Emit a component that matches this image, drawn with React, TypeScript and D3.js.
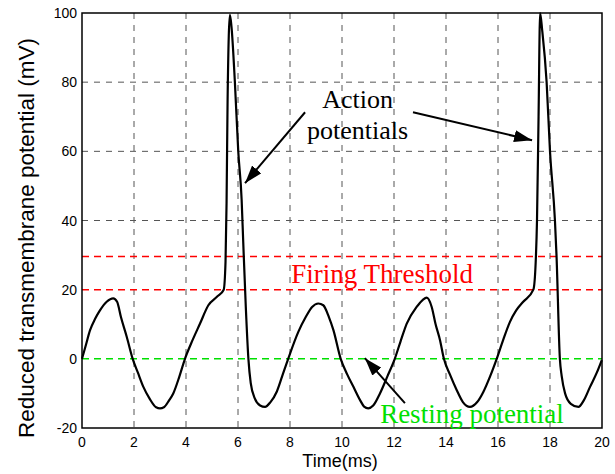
import React, { useRef, useEffect } from "react";
import * as d3 from "d3";

const WIDTH = 615;
const HEIGHT = 474;
const MARGIN = { top: 13, right: 13, bottom: 46, left: 82 };

const X_TICKS = [0, 2, 4, 6, 8, 10, 12, 14, 16, 18, 20];
const Y_TICKS = [-20, 0, 20, 40, 60, 80, 100];

// membrane potential trace, [time (ms), potential (mV)]
const TIME = [
  0, 0.15, 0.31, 0.5, 0.69, 0.95, 1.2, 1.35, 1.5, 1.72, 1.95, 2.15, 2.36, 2.6, 2.85, 3.0, 3.15, 3.35, 3.51,
  3.75, 3.96, 4.2, 4.54, 4.86, 5.2, 5.45, 5.52, 5.56, 5.6, 5.69, 5.75, 5.88, 6.01, 6.14, 6.2, 6.3, 6.4, 6.49,
  6.65, 6.85, 7.04, 7.25, 7.49, 7.7, 7.93, 8.32, 8.6, 8.85, 9.09, 9.28, 9.5, 9.67, 9.95, 10.2, 10.44, 10.7,
  10.85, 11.01, 11.2, 11.46, 11.75, 12.03, 12.25, 12.49, 12.87, 13.1, 13.26, 13.45, 13.6, 13.77, 13.92, 14.15,
  14.41, 14.65, 14.92, 15.2, 15.44, 15.7, 15.95, 16.2, 16.46, 16.7, 16.97, 17.36, 17.45, 17.5, 17.56, 17.62,
  17.7, 17.87, 18.0, 18.19, 18.25, 18.38, 18.45, 18.58, 18.8, 19.09, 19.3, 19.54, 19.8, 19.99,
];
const POTENTIAL = [
  0, 4, 8.3, 11.5, 14, 16.5, 17.5, 16.5, 12, 6.4, 0, -4, -8.1, -11.5, -14, -14.3, -14, -12, -10,
  -5, 0, 4.5, 10.2, 15.5, 18, 20, 28, 45, 75, 99.5, 96, 80, 60, 46, 34, 15, 0, -7,
  -11.5, -13.5, -13.9, -12.5, -9.5, -5, 0, 7.8, 12, 15, 16, 15.5, 12, 8.3, 0, -4.5, -8.1, -12,
  -13.8, -14.3, -13.5, -10, -5, 0, 5, 10.2, 15, 17, 17.7, 15, 10, 5.4, 0, -4.5,
  -9, -12.5, -13.9, -12.5, -9.5, -5, 0, 5.5, 10.7, 14, 16.5, 20, 28, 40, 70, 100,
  95, 80, 60, 40, 30, 0, -5, -10, -13, -13.9, -12, -8.1, -4, -0.4,
];

const THRESHOLDS = [20, 29.6];
const RESTING = 0;

export default function App() {
  const svgRef = useRef<SVGSVGElement>(null);

  useEffect(() => {
    const svg = d3.select(svgRef.current);
    svg.selectAll("*").remove();

    const innerW = WIDTH - MARGIN.left - MARGIN.right;
    const innerH = HEIGHT - MARGIN.top - MARGIN.bottom;

    const x = d3.scaleLinear().domain([0, 20]).range([0, innerW]);
    const y = d3.scaleLinear().domain([-20, 100]).range([innerH, 0]);

    const defs = svg.append("defs");
    defs
      .append("marker")
      .attr("id", "arrow")
      .attr("viewBox", "0 0 18 12")
      .attr("refX", 18)
      .attr("refY", 6)
      .attr("markerWidth", 18)
      .attr("markerHeight", 12)
      .attr("markerUnits", "userSpaceOnUse")
      .attr("orient", "auto")
      .append("path")
      .attr("d", "M0,0 L18,6 L0,12 Z")
      .attr("fill", "#000");

    const g = svg.append("g").attr("transform", `translate(${MARGIN.left},${MARGIN.top})`);

    // grid
    g.selectAll(".vgrid")
      .data(X_TICKS.slice(1, -1))
      .join("line")
      .attr("x1", (d) => x(d))
      .attr("x2", (d) => x(d))
      .attr("y1", 0)
      .attr("y2", innerH)
      .attr("stroke", "#555")
      .attr("stroke-dasharray", "6,6");
    g.selectAll(".hgrid")
      .data(Y_TICKS.slice(1, -1).filter((d) => d !== 0 && d !== 20))
      .join("line")
      .attr("x1", 0)
      .attr("x2", innerW)
      .attr("y1", (d) => y(d))
      .attr("y2", (d) => y(d))
      .attr("stroke", "#555")
      .attr("stroke-dasharray", "6,6");

    // threshold + resting lines
    g.selectAll(".thr")
      .data(THRESHOLDS)
      .join("line")
      .attr("x1", 0)
      .attr("x2", innerW)
      .attr("y1", (d) => y(d))
      .attr("y2", (d) => y(d))
      .attr("stroke", "#ff0000")
      .attr("stroke-width", 1.5)
      .attr("stroke-dasharray", "7,5");
    g.append("line")
      .attr("x1", 0)
      .attr("x2", innerW)
      .attr("y1", y(RESTING))
      .attr("y2", y(RESTING))
      .attr("stroke", "#00e000")
      .attr("stroke-width", 1.5)
      .attr("stroke-dasharray", "7,5");

    // trace
    const pts: [number, number][] = TIME.map((t, i) => [t, POTENTIAL[i]]);
    const line = d3
      .line<[number, number]>()
      .x((d) => x(d[0]))
      .y((d) => y(d[1]))
      .curve(d3.curveMonotoneX);
    g.append("path")
      .attr("d", line(pts))
      .attr("fill", "none")
      .attr("stroke", "#000")
      .attr("stroke-width", 2.2);

    // frame
    g.append("rect")
      .attr("width", innerW)
      .attr("height", innerH)
      .attr("fill", "none")
      .attr("stroke", "#000")
      .attr("stroke-width", 1.5);

    // tick labels
    g.selectAll(".xt")
      .data(X_TICKS)
      .join("text")
      .attr("x", (d) => x(d))
      .attr("y", innerH + 19)
      .attr("text-anchor", "middle")
      .attr("font-family", "Liberation Sans, Arial, sans-serif")
      .attr("font-size", 14)
      .text((d) => d);
    g.selectAll(".yt")
      .data(Y_TICKS)
      .join("text")
      .attr("x", -5)
      .attr("y", (d) => y(d))
      .attr("dy", "0.36em")
      .attr("text-anchor", "end")
      .attr("font-family", "Liberation Sans, Arial, sans-serif")
      .attr("font-size", 14)
      .text((d) => d);

    // axis titles
    svg.append("text")
      .attr("x", 340)
      .attr("y", 467)
      .attr("text-anchor", "middle")
      .attr("font-family", "Liberation Sans, Arial, sans-serif")
      .attr("font-size", 18)
      .text("Time(ms)");
    svg.append("text")
      .attr("transform", "translate(34,238) rotate(-90)")
      .attr("text-anchor", "middle")
      .attr("font-family", "Liberation Sans, Arial, sans-serif")
      .attr("font-size", 22.5)
      .text("Reduced transmembrane potential (mV)");

    // annotations
    const serif = "Liberation Serif, Times New Roman, serif";
    g.append("text")
      .attr("x", x(11.54))
      .attr("y", y(21.9))
      .attr("text-anchor", "middle")
      .attr("font-family", serif)
      .attr("font-size", 27)
      .attr("fill", "#ff0000")
      .text("Firing Threshold");
    g.append("text")
      .attr("x", x(15))
      .attr("y", y(-18.6))
      .attr("text-anchor", "middle")
      .attr("font-family", serif)
      .attr("font-size", 27)
      .attr("fill", "#00e000")
      .text("Resting potential");
    const ap = g
      .append("text")
      .attr("text-anchor", "middle")
      .attr("font-family", serif)
      .attr("font-size", 26)
      .attr("fill", "#000");
    ap.append("tspan").attr("x", x(10.6)).attr("y", y(72.4)).text("Action");
    ap.append("tspan").attr("x", x(10.6)).attr("y", y(63.6)).text("potentials");

    const arrows = [
      [8.58, 71.3, 6.27, 50.8],
      [12.73, 71.3, 17.31, 63.2],
      [12.42, -12.8, 10.88, 0.2],
    ];
    g.selectAll(".arrow")
      .data(arrows)
      .join("line")
      .attr("x1", (d) => x(d[0]))
      .attr("y1", (d) => y(d[1]))
      .attr("x2", (d) => x(d[2]))
      .attr("y2", (d) => y(d[3]))
      .attr("stroke", "#000")
      .attr("stroke-width", 2)
      .attr("marker-end", "url(#arrow)");
  }, []);

  return (
    <svg
      ref={svgRef}
      width={WIDTH}
      height={HEIGHT}
      style={{ position: "absolute", left: 0, top: 0, background: "#fff" }}
    />
  );
}
